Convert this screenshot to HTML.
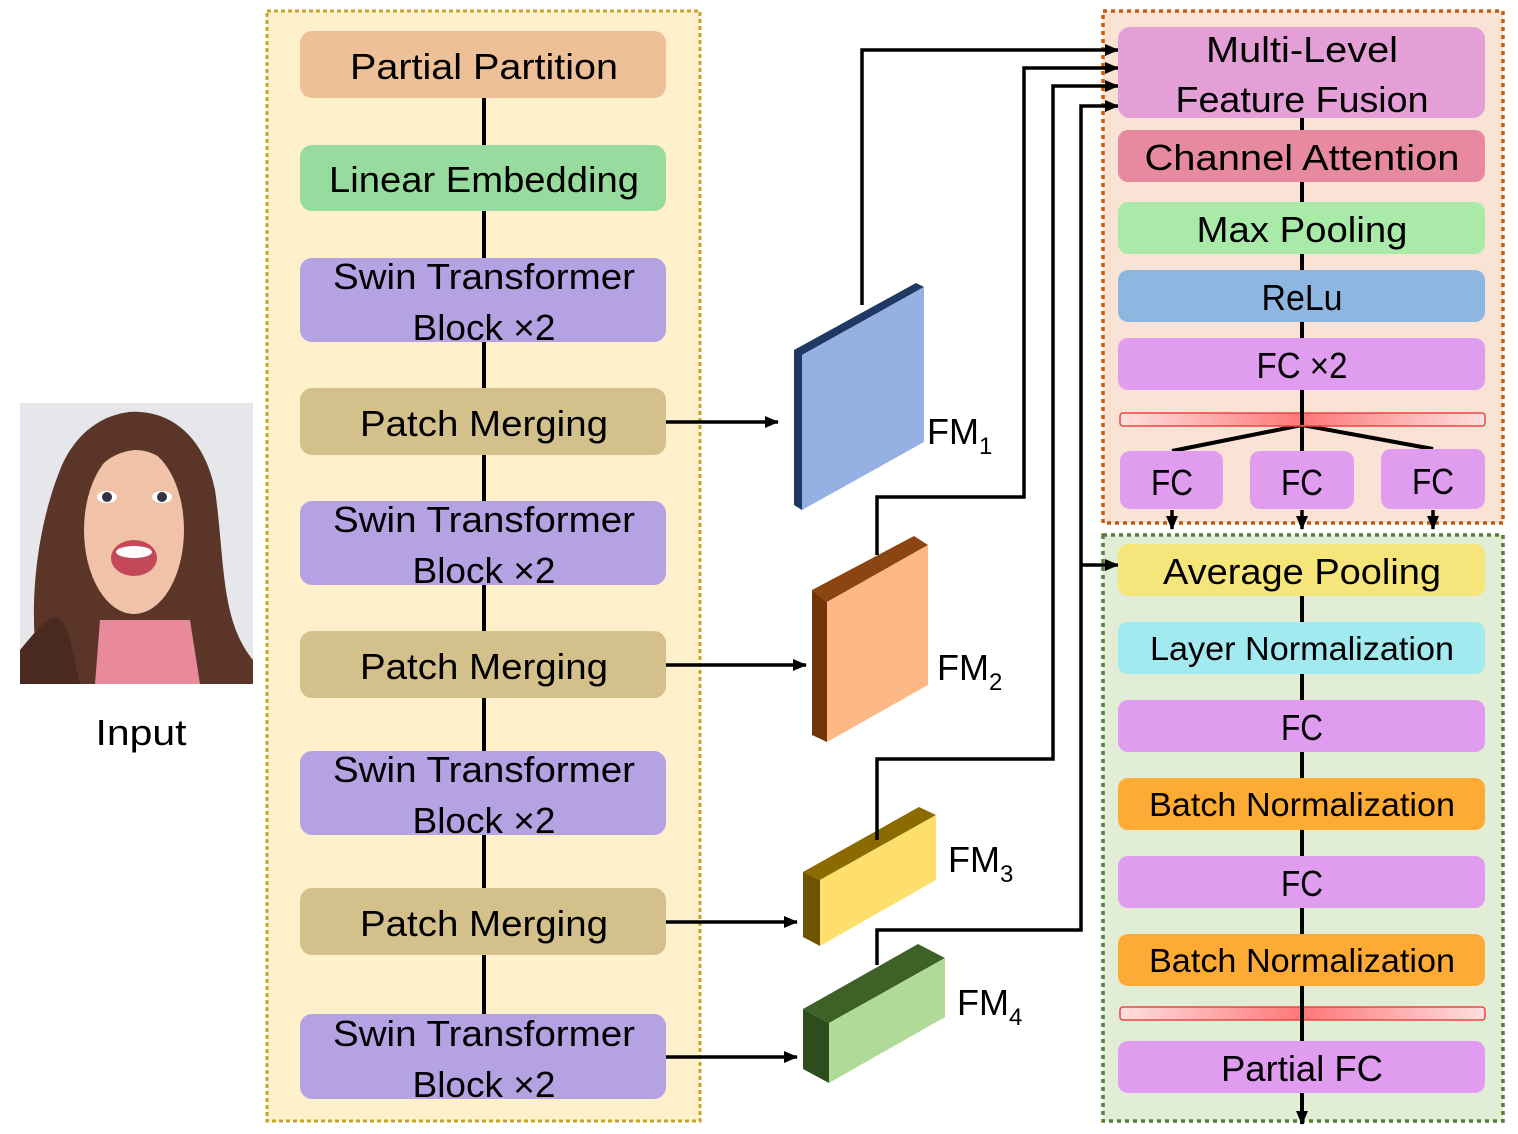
<!DOCTYPE html>
<html><head><meta charset="utf-8"><style>
html,body{margin:0;padding:0;background:#fff;}
svg{display:block;font-family:"Liberation Sans",sans-serif;}
</style></head><body>
<svg width="1518" height="1134" viewBox="0 0 1518 1134" xmlns="http://www.w3.org/2000/svg">
<defs>
<marker id="ah" markerWidth="14" markerHeight="14" refX="13" refY="7" orient="auto" markerUnits="userSpaceOnUse">
<path d="M0,1 L14,7 L0,13 Z" fill="#000"/></marker>
<linearGradient id="rb" x1="0" x2="1" y1="0" y2="0">
<stop offset="0" stop-color="#fde0e0"/><stop offset="0.5" stop-color="#f77"/><stop offset="1" stop-color="#fde0e0"/></linearGradient>
</defs>

<!-- input image -->
<g>
<rect x="20" y="403" width="233" height="281" fill="#e6e7ea"/>
<path d="M40,684 C25,600 40,520 60,470 C80,420 120,410 140,412 C175,414 205,440 215,490 C225,560 220,620 253,660 L253,684 Z" fill="#5a3528"/>
<path d="M20,684 L20,650 C45,620 60,600 70,640 L80,684 Z" fill="#4a2a20"/>
<path d="M95,684 L100,620 L190,620 L200,684 Z" fill="#e98a9c"/>
<ellipse cx="134" cy="530" rx="50" ry="84" fill="#f0c3a8"/>
<path d="M82,500 C85,450 110,430 140,432 C170,434 185,460 190,500 C180,470 160,450 135,450 C110,452 90,470 82,500 Z" fill="#5a3528"/>
<ellipse cx="107" cy="497" rx="10" ry="6" fill="#fff"/><circle cx="107" cy="497" r="5" fill="#334"/>
<ellipse cx="162" cy="497" rx="10" ry="6" fill="#fff"/><circle cx="162" cy="497" r="5" fill="#334"/>
<ellipse cx="134" cy="558" rx="23" ry="18" fill="#c4485a"/>
<ellipse cx="134" cy="552" rx="18" ry="6" fill="#fff"/>
</g>
<text x="141" y="745" font-size="36" text-anchor="middle" textLength="91" lengthAdjust="spacingAndGlyphs">Input</text>

<!-- left container -->
<rect x="267" y="11" width="433" height="1110" fill="#fff0cc" stroke="#c9a227" stroke-width="3" stroke-dasharray="4,3"/>
<line x1="484" y1="98" x2="484" y2="1014" stroke="#000" stroke-width="4"/>
<g font-size="36" text-anchor="middle">
<rect x="300" y="31" width="366" height="67" rx="12" fill="#edc097"/>
<text x="484" y="79" textLength="268" lengthAdjust="spacingAndGlyphs">Partial Partition</text>
<rect x="300" y="145" width="366" height="66" rx="12" fill="#97dc9e"/>
<text x="484" y="192" textLength="310" lengthAdjust="spacingAndGlyphs">Linear Embedding</text>
<rect x="300" y="258" width="366" height="84" rx="12" fill="#b5a2e3"/>
<text x="484" y="289" textLength="302" lengthAdjust="spacingAndGlyphs">Swin Transformer</text>
<text x="484" y="340" textLength="143" lengthAdjust="spacingAndGlyphs">Block ×2</text>
<rect x="300" y="388" width="366" height="67" rx="12" fill="#d4c08a"/>
<text x="484" y="436" textLength="248" lengthAdjust="spacingAndGlyphs">Patch Merging</text>
<rect x="300" y="501" width="366" height="84" rx="12" fill="#b5a2e3"/>
<text x="484" y="532" textLength="302" lengthAdjust="spacingAndGlyphs">Swin Transformer</text>
<text x="484" y="583" textLength="143" lengthAdjust="spacingAndGlyphs">Block ×2</text>
<rect x="300" y="631" width="366" height="67" rx="12" fill="#d4c08a"/>
<text x="484" y="679" textLength="248" lengthAdjust="spacingAndGlyphs">Patch Merging</text>
<rect x="300" y="751" width="366" height="84" rx="12" fill="#b5a2e3"/>
<text x="484" y="782" textLength="302" lengthAdjust="spacingAndGlyphs">Swin Transformer</text>
<text x="484" y="833" textLength="143" lengthAdjust="spacingAndGlyphs">Block ×2</text>
<rect x="300" y="888" width="366" height="67" rx="12" fill="#d4c08a"/>
<text x="484" y="936" textLength="248" lengthAdjust="spacingAndGlyphs">Patch Merging</text>
<rect x="300" y="1014" width="366" height="85" rx="12" fill="#b5a2e3"/>
<text x="484" y="1046" textLength="302" lengthAdjust="spacingAndGlyphs">Swin Transformer</text>
<text x="484" y="1097" textLength="143" lengthAdjust="spacingAndGlyphs">Block ×2</text>
</g>

<!-- horizontal arrows -->
<g stroke="#000" stroke-width="3.5" fill="none">
<line x1="666" y1="422" x2="778" y2="422" marker-end="url(#ah)"/>
<line x1="666" y1="665" x2="806" y2="665" marker-end="url(#ah)"/>
<line x1="666" y1="922" x2="797" y2="922" marker-end="url(#ah)"/>
<line x1="666" y1="1057" x2="797" y2="1057" marker-end="url(#ah)"/>
</g>

<!-- feature maps -->
<polygon points="794,350 916,283 924,287 802,355 802,510 794,505" fill="#203864"/>
<polygon points="802,355 924,287 924,442 802,510" fill="#95b1e3"/>
<polygon points="812,590 914,536 928,545 827,602" fill="#8b4513"/>
<polygon points="812,590 827,602 827,742 812,735" fill="#723508"/>
<polygon points="827,602 928,545 928,685 827,742" fill="#fdb886"/>
<polygon points="803,872 919,807 936,815 820,880" fill="#8b6b00"/>
<polygon points="803,872 820,880 820,946 803,937" fill="#6e5300"/>
<polygon points="820,880 936,815 936,880 820,946" fill="#ffdf6b"/>
<polygon points="803,1009 918,944 945,958 829,1023" fill="#3e6127"/>
<polygon points="803,1009 829,1023 829,1083 803,1069" fill="#2f4c1e"/>
<polygon points="829,1023 945,958 945,1017 829,1083" fill="#b0da97"/>
<g font-size="36">
<text x="927" y="444">FM<tspan font-size="24" dy="10">1</tspan></text>
<text x="937" y="680">FM<tspan font-size="24" dy="10">2</tspan></text>
<text x="948" y="872">FM<tspan font-size="24" dy="10">3</tspan></text>
<text x="957" y="1015">FM<tspan font-size="24" dy="10">4</tspan></text>
</g>

<!-- right containers -->
<rect x="1103" y="11" width="400" height="512" fill="#fae3d4" stroke="#c55a11" stroke-width="3.5" stroke-dasharray="4,4"/>
<rect x="1103" y="535" width="400" height="586" fill="#e2edd6" stroke="#548235" stroke-width="3.5" stroke-dasharray="4,4"/>

<line x1="1302" y1="110" x2="1302" y2="425" stroke="#000" stroke-width="4"/>
<line x1="1302" y1="590" x2="1302" y2="1124" stroke="#000" stroke-width="4" marker-end="url(#ah)"/>

<!-- feature connectors -->
<g stroke="#000" stroke-width="3.5" fill="none">
<polyline points="862,305 862,50 1118,50" marker-end="url(#ah)"/>
<polyline points="877,555 877,497 1024,497 1024,68 1118,68" marker-end="url(#ah)"/>
<polyline points="877,840 877,759 1053,759 1053,86 1118,86" marker-end="url(#ah)"/>
<polyline points="877,965 877,930 1081,930 1081,106 1118,106" marker-end="url(#ah)"/>
<line x1="1081" y1="565" x2="1118" y2="565" marker-end="url(#ah)"/>
<polyline points="1172,451 1302,425 1433,449" stroke-width="4"/>
<line x1="1302" y1="425" x2="1302" y2="451" stroke-width="4"/>
<line x1="1172" y1="510" x2="1172" y2="529" marker-end="url(#ah)"/>
<line x1="1302" y1="510" x2="1302" y2="529" marker-end="url(#ah)"/>
<line x1="1433" y1="510" x2="1433" y2="529" marker-end="url(#ah)"/>
</g>

<g font-size="36" text-anchor="middle">
<rect x="1118" y="27" width="367" height="91" rx="12" fill="#e4a0d6"/>
<text x="1302" y="62" textLength="192" lengthAdjust="spacingAndGlyphs">Multi-Level</text>
<text x="1302" y="112" textLength="253" lengthAdjust="spacingAndGlyphs">Feature Fusion</text>
<rect x="1118" y="130" width="367" height="52" rx="10" fill="#e88a9f"/>
<text x="1302" y="170" textLength="315" lengthAdjust="spacingAndGlyphs">Channel Attention</text>
<rect x="1118" y="202" width="367" height="52" rx="10" fill="#a9eaa9"/>
<text x="1302" y="242" textLength="211" lengthAdjust="spacingAndGlyphs">Max Pooling</text>
<rect x="1118" y="270" width="367" height="52" rx="10" fill="#8db6e0"/>
<text x="1302" y="310" textLength="81" lengthAdjust="spacingAndGlyphs">ReLu</text>
<rect x="1118" y="338" width="367" height="52" rx="10" fill="#e09df0"/>
<text x="1302" y="378" textLength="91" lengthAdjust="spacingAndGlyphs">FC ×2</text>
<rect x="1120" y="413" width="365" height="13" rx="3" fill="url(#rb)" stroke="#e44" stroke-width="1.5"/>
<rect x="1120" y="451" width="103" height="58" rx="10" fill="#e09df0"/>
<text x="1172" y="495" textLength="42" lengthAdjust="spacingAndGlyphs">FC</text>
<rect x="1250" y="451" width="104" height="58" rx="10" fill="#e09df0"/>
<text x="1302" y="495" textLength="42" lengthAdjust="spacingAndGlyphs">FC</text>
<rect x="1381" y="449" width="104" height="60" rx="10" fill="#e09df0"/>
<text x="1433" y="494" textLength="42" lengthAdjust="spacingAndGlyphs">FC</text>

<rect x="1118" y="544" width="367" height="52" rx="10" fill="#f5e57a"/>
<text x="1302" y="584" textLength="278" lengthAdjust="spacingAndGlyphs">Average Pooling</text>
<rect x="1118" y="622" width="367" height="52" rx="10" fill="#a3e9f0"/>
<text x="1302" y="660" font-size="33" textLength="304" lengthAdjust="spacingAndGlyphs">Layer Normalization</text>
<rect x="1118" y="700" width="367" height="52" rx="10" fill="#e09df0"/>
<text x="1302" y="740" textLength="42" lengthAdjust="spacingAndGlyphs">FC</text>
<rect x="1118" y="778" width="367" height="52" rx="10" fill="#fdab35"/>
<text x="1302" y="816" font-size="33" textLength="306" lengthAdjust="spacingAndGlyphs">Batch Normalization</text>
<rect x="1118" y="856" width="367" height="52" rx="10" fill="#e09df0"/>
<text x="1302" y="896" textLength="42" lengthAdjust="spacingAndGlyphs">FC</text>
<rect x="1118" y="934" width="367" height="52" rx="10" fill="#fdab35"/>
<text x="1302" y="972" font-size="33" textLength="306" lengthAdjust="spacingAndGlyphs">Batch Normalization</text>
<rect x="1120" y="1007" width="365" height="13" rx="3" fill="url(#rb)" stroke="#e44" stroke-width="1.5"/>
<rect x="1118" y="1041" width="367" height="52" rx="10" fill="#e09df0"/>
<text x="1302" y="1081" textLength="162" lengthAdjust="spacingAndGlyphs">Partial FC</text>
</g>
<g stroke="#000" stroke-width="4">
<line x1="1302" y1="118" x2="1302" y2="130"/>
<line x1="1302" y1="182" x2="1302" y2="202"/>
<line x1="1302" y1="254" x2="1302" y2="270"/>
<line x1="1302" y1="322" x2="1302" y2="338"/>
<line x1="1302" y1="390" x2="1302" y2="425"/>
<line x1="1302" y1="596" x2="1302" y2="622"/>
<line x1="1302" y1="674" x2="1302" y2="700"/>
<line x1="1302" y1="752" x2="1302" y2="778"/>
<line x1="1302" y1="830" x2="1302" y2="856"/>
<line x1="1302" y1="908" x2="1302" y2="934"/>
<line x1="1302" y1="986" x2="1302" y2="1041"/>
</g>
</svg>
</body></html>
